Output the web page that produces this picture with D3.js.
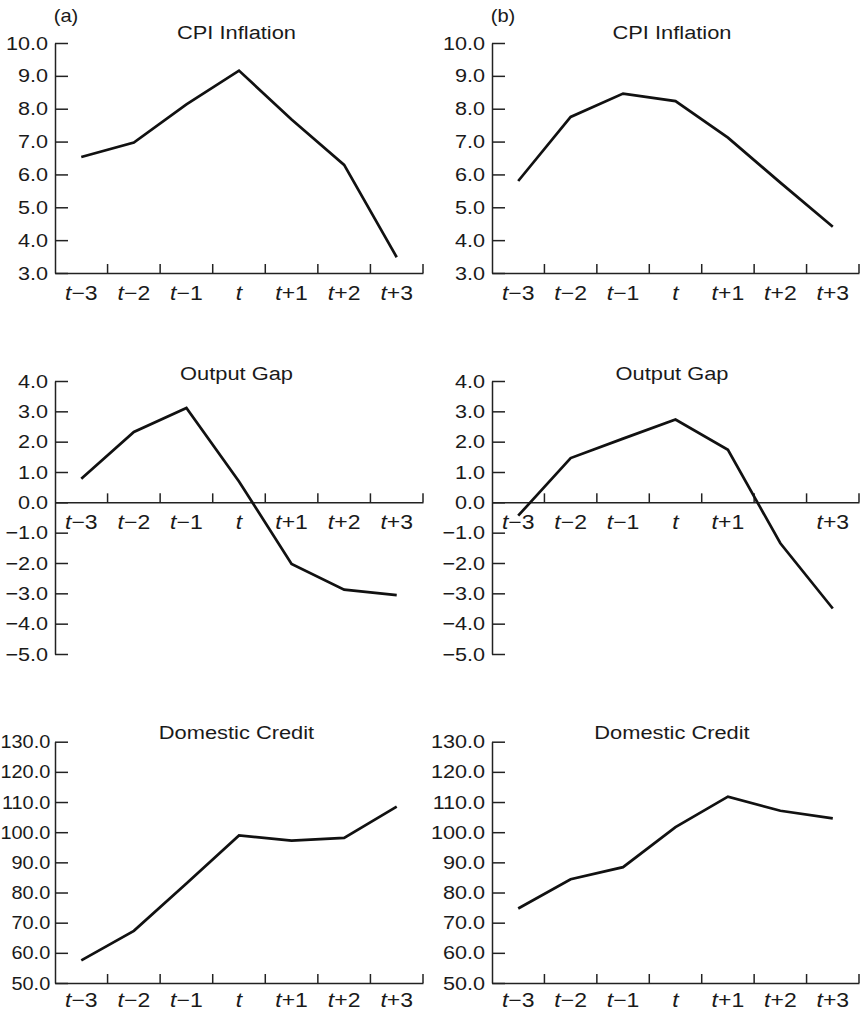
<!DOCTYPE html>
<html>
<head>
<meta charset="utf-8">
<script src="https://cdn.jsdelivr.net/npm/d3@7"></script>
<style>
  body { margin: 0; background: #fff; }
  svg { display: block; }
  text { font-family: "Liberation Sans", Arial, sans-serif; fill: #1a1a1a; }
</style>
</head>
<body>
<svg width="862" height="1011"></svg>
<script>
// periods around the event
var periods = ["t\u22123", "t\u22122", "t\u22121", "t", "t+1", "t+2", "t+3"]

// values
var cpiA = [6.53, 6.97, 8.13, 9.16, 7.67, 6.29, 3.48]
var cpiB = [5.80, 7.75, 8.46, 8.23, 7.12, 5.75, 4.41]
var gapA = [0.78, 2.32, 3.11, 0.69, -2.03, -2.88, -3.06]
var gapB = [-0.44, 1.46, 2.10, 2.73, 1.73, -1.35, -3.50]
var creditA = [57.5, 67.3, 83.0, 98.9, 97.2, 98.1, 108.5]
var creditB = [74.7, 84.4, 88.4, 101.7, 111.8, 107.1, 104.6]

var cpiTicks = [3, 4, 5, 6, 7, 8, 9, 10]
var gapTicks = [-5, -4, -3, -2, -1, 0, 1, 2, 3, 4]
var creditTicks = [50, 60, 70, 80, 90, 100, 110, 120, 130]

var titles = ["CPI Inflation", "Output Gap", "Domestic Credit"]
var panelLabels = ["(a)", "(b)"]

var svg = d3.select("svg")

// the original type is a little wide, so text is stretched sideways
var sx = 1.15

var cols = [
	{ x0: 55, x1: 423, labelX: 66, titleX: 236.5 },
	{ x0: 492, x1: 859, labelX: 503, titleX: 672 }
]

var rows = [
	{ top: 43, bottom: 273, ticks: cpiTicks, axisAt: 3, titleY: 39, pad: 13 },
	{ top: 381, bottom: 654, ticks: gapTicks, axisAt: 0, titleY: 380, pad: 12 },
	{ top: 741.7, bottom: 983, ticks: creditTicks, axisAt: 50, titleY: 739, pad: 10 }
]

var series = [
	[cpiA, cpiB],
	[gapA, gapB],
	[creditA, creditB]
]

rows.forEach(function (row, r) {
	cols.forEach(function (col, c) {
		var hide = (r == 1 && c == 1) ? ["t+2"] : []
		// widest labels at the far left are squeezed a bit to stay on the page
		var ysx = (r == 2 && c == 0) ? 1.06 : sx
		drawPanel(col, row, series[r][c], titles[r], hide, ysx)
	})
})

panelLabels.forEach(function (lab, c) {
	svg.append("text")
		.attr("transform", "translate(" + cols[c].labelX + ",21.5) scale(" + sx + ",1)")
		.attr("text-anchor", "middle")
		.style("font-size", "17.5px")
		.text(lab)
})

function drawPanel(col, row, values, title, hide, ysx) {
	var g = svg.append("g")

	var y = d3.scaleLinear()
		.domain([row.ticks[0], row.ticks[row.ticks.length - 1]])
		.range([row.bottom, row.top])

	var x = d3.scaleBand().domain(periods).range([col.x0, col.x1])

	// y axis, ticks pointing inward
	var ya = g.append("g")
		.attr("transform", "translate(" + col.x0 + ",0)")
		.call(d3.axisLeft(y)
			.tickValues(row.ticks)
			.tickFormat(d3.format(".1f"))
			.tickSizeInner(-13)
			.tickSizeOuter(0)
			.tickPadding(ysx < sx ? 4.5 : 6))
	ya.selectAll("text")
		.style("font-size", "18.8px")
		.attr("transform", "scale(" + ysx + ",1)")

	var axisY = y(row.axisAt)

	// x axis with labels centred in each period
	var xa = g.append("g")
		.attr("transform", "translate(0," + axisY + ")")
		.call(d3.axisBottom(x).tickSize(0).tickPadding(row.pad))
	xa.selectAll("text")
		.style("font-size", "20px")
		.attr("transform", "scale(" + sx + ",1)")
		.each(function (d) {
			var t = d3.select(this)
			t.text(null)
			if (hide.indexOf(d) >= 0) return
			t.append("tspan").style("font-style", "italic").text(d.slice(0, 1))
			t.append("tspan").text(d.slice(1))
		})

	// ticks on the period boundaries
	g.selectAll(".btick")
		.data(d3.range(1, periods.length + 1))
		.enter().append("line")
		.attr("class", "btick")
		.attr("x1", function (i) { return col.x0 + i * x.step() })
		.attr("x2", function (i) { return col.x0 + i * x.step() })
		.attr("y1", axisY)
		.attr("y2", axisY - 9)

	g.selectAll(".domain, .tick line, .btick")
		.attr("stroke", "#222")
		.attr("stroke-width", 1.5)

	var line = d3.line()
		.x(function (d, i) { return x(periods[i]) + x.bandwidth() / 2 })
		.y(function (d) { return y(d) })

	g.append("path")
		.datum(values)
		.attr("d", line)
		.attr("fill", "none")
		.attr("stroke", "#111")
		.attr("stroke-width", 2.7)

	g.append("text")
		.attr("transform", "translate(" + col.titleX + "," + row.titleY + ") scale(" + sx + ",1)")
		.attr("text-anchor", "middle")
		.style("font-size", "19px")
		.text(title)
}
</script>
</body>
</html>
